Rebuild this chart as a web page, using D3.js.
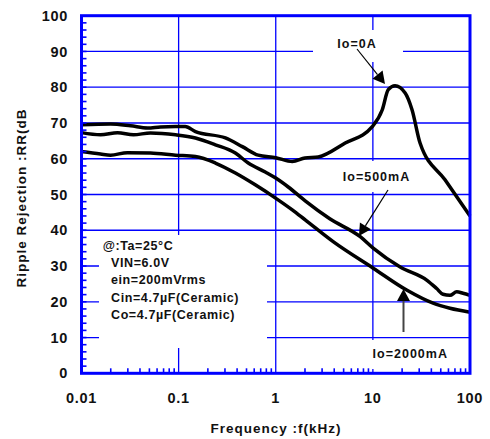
<!DOCTYPE html>
<html>
<head>
<meta charset="utf-8">
<script src="https://cdn.jsdelivr.net/npm/d3@7"></script>
<style>
  body { margin: 0; background: #fff; }
  text { font-family: "Liberation Sans", Arial, sans-serif; font-weight: bold; fill: #111; }
</style>
</head>
<body>
<div id="chart"></div>
<script>
var w = 490, h = 439;

// frequency in kHz, ripple rejection in dB
var f0 = [0.01, 0.02, 0.032, 0.048, 0.065, 0.093, 0.117, 0.149, 0.303, 0.453, 0.66, 1.0, 1.48, 2.0, 2.74, 5.19, 9.8, 12.5, 14.4, 16.9, 21.5, 25.3, 30.6, 55.3, 100];
var rr0 = [69.5, 69.7, 69.2, 68.6, 68.9, 69, 69, 67.6, 65.8, 63.4, 61, 60.3, 59.2, 60.2, 60.5, 64.4, 68.9, 73.7, 79.3, 80.4, 78.4, 73.7, 64.4, 54.1, 44];

var f500 = [0.01, 0.0157, 0.0235, 0.0343, 0.0513, 0.093, 0.149, 0.239, 0.384, 0.521, 0.78, 1.0, 1.345, 2.01, 3.6, 7.41, 10.07, 19.1, 36.1, 45.4, 52.7, 62.2, 73, 84.7, 100];
var rr500 = [67.3, 66.7, 67.3, 66.7, 67.2, 66.7, 65.8, 63.9, 61.6, 58.8, 56.3, 54.6, 52.1, 48.2, 43.2, 38.2, 35, 29.7, 26, 23.7, 22.1, 21.8, 22.8, 22.4, 21.8];

var f2000 = [0.01, 0.0157, 0.0199, 0.0297, 0.0513, 0.093, 0.149, 0.239, 0.384, 0.615, 0.995, 1.48, 2.01, 3.9, 10.07, 22.5, 41.7, 62.2, 100];
var rr2000 = [62, 61.3, 61, 61.7, 61.6, 61, 60.6, 58.8, 56, 52.7, 49, 45.7, 42.9, 36.8, 29.4, 23.2, 19.6, 18.2, 17.1];

var xTicks = [0.01, 0.1, 1, 10, 100];
var xTickLabels = ["0.01", "0.1", "1", "10", "100"];
var yTicks = [0, 10, 20, 30, 40, 50, 60, 70, 80, 90, 100];

var notes = ["@:Ta=25°C", "VIN=6.0V", "ein=200mVrms", "Cin=4.7µF(Ceramic)", "Co=4.7µF(Ceramic)"];

var pL = 81.5, pR = 470, pT = 15.7, pB = 373.3;
var blue = "#0000ff";

var svg = d3.select("#chart")
  .append("svg")
  .attr("width", w)
  .attr("height", h);

var x = d3.scaleLog()
  .domain([0.01, 100])
  .range([pL, pR]);

var y = d3.scaleLinear()
  .domain([0, 100])
  .range([pB, pT]);

// grid
svg.append("g")
  .selectAll("line")
  .data(yTicks.slice(1, -1))
  .join("line")
  .attr("x1", pL).attr("x2", pR)
  .attr("y1", d => y(d)).attr("y2", d => y(d))
  .attr("stroke", blue).attr("stroke-width", 1.3);

svg.append("g")
  .selectAll("line")
  .data(xTicks.slice(1, -1))
  .join("line")
  .attr("x1", d => x(d)).attr("x2", d => x(d))
  .attr("y1", pT).attr("y2", pB)
  .attr("stroke", blue).attr("stroke-width", 1.3);

// white boxes behind the labels
var boxes = [[313, 30, 90, 32], [330, 161, 90, 31], [345, 340, 123, 29], [99, 235, 168, 113]];
svg.append("g")
  .selectAll("rect")
  .data(boxes)
  .join("rect")
  .attr("x", d => d[0]).attr("y", d => d[1])
  .attr("width", d => d[2]).attr("height", d => d[3])
  .attr("fill", "#fff");

// curves
var line = d3.line()
  .x(d => x(d[0]))
  .y(d => y(d[1]))
  .curve(d3.curveMonotoneX);

[[f0, rr0], [f500, rr500], [f2000, rr2000]].forEach(function (s) {
  svg.append("path")
    .datum(d3.zip(s[0], s[1]))
    .attr("fill", "none")
    .attr("stroke", "#000")
    .attr("stroke-width", 3.5)
    .attr("stroke-linejoin", "round")
    .attr("d", line);
});

// minor ticks
svg.append("g")
  .selectAll("line")
  .data(d3.range(2, 100, 2))
  .join("line")
  .attr("x1", pL).attr("x2", pL + 5)
  .attr("y1", d => y(d)).attr("y2", d => y(d))
  .attr("stroke", blue).attr("stroke-width", 1.6);

var minorX = [];
[0.01, 0.1, 1, 10].forEach(function (dec) {
  d3.range(2, 10).forEach(k => minorX.push(dec * k));
});
svg.append("g")
  .selectAll("line")
  .data(minorX)
  .join("line")
  .attr("x1", d => x(d)).attr("x2", d => x(d))
  .attr("y1", pB).attr("y2", pB - 5)
  .attr("stroke", blue).attr("stroke-width", 1.6);

// frame
svg.append("rect")
  .attr("x", pL).attr("y", pT)
  .attr("width", pR - pL).attr("height", pB - pT)
  .attr("fill", "none")
  .attr("stroke", blue)
  .attr("stroke-width", 3);

// tick labels
svg.append("g")
  .selectAll("text")
  .data(yTicks)
  .join("text")
  .attr("x", 68)
  .attr("y", d => y(d))
  .attr("dy", "0.35em")
  .attr("text-anchor", "end")
  .attr("font-size", 14.5)
  .attr("letter-spacing", 0.7)
  .text(d => d);

svg.append("g")
  .selectAll("text")
  .data(xTicks)
  .join("text")
  .attr("x", (d, i) => x(d))
  .attr("y", 403)
  .attr("text-anchor", "middle")
  .attr("font-size", 14.5)
  .attr("letter-spacing", 0.7)
  .text((d, i) => xTickLabels[i]);

// axis titles
svg.append("text")
  .attr("x", 276)
  .attr("y", 433)
  .attr("text-anchor", "middle")
  .attr("font-size", 13.5)
  .attr("letter-spacing", 1)
  .text("Frequency :f(kHz)");

svg.append("text")
  .attr("transform", "translate(26,198) rotate(-90)")
  .attr("text-anchor", "middle")
  .attr("font-size", 13.5)
  .attr("letter-spacing", 1)
  .text("Ripple Rejection :RR(dB");

// conditions
svg.append("g")
  .selectAll("text")
  .data(notes)
  .join("text")
  .attr("x", (d, i) => i == 0 ? 102.7 : 111)
  .attr("y", (d, i) => 250 + i * 17.2)
  .attr("font-size", 12.5)
  .attr("letter-spacing", 0.6)
  .text(d => d);

// curve labels with arrows
var labels = [
  {text: "Io=0A", x: 357, y: 48.3, from: [357, 49], to: [385, 84], color: "#000", width: 1.2},
  {text: "Io=500mA", x: 376.5, y: 180.7, from: [388, 190], to: [359, 236], color: "#000", width: 1.2},
  {text: "Io=2000mA", x: 410.3, y: 358.3, from: [403.5, 332], to: [403.5, 289], color: "#444", width: 2}
];

labels.forEach(function (l) {
  svg.append("text")
    .attr("x", l.x)
    .attr("y", l.y)
    .attr("text-anchor", "middle")
    .attr("font-size", 12.5)
    .attr("letter-spacing", 1)
    .text(l.text);

  var dx = l.to[0] - l.from[0], dy = l.to[1] - l.from[1];
  var len = Math.sqrt(dx * dx + dy * dy);
  var ux = dx / len, uy = dy / len;
  var hl = 12, hw = 6.5;
  var bx = l.to[0] - ux * hl, by = l.to[1] - uy * hl;

  svg.append("line")
    .attr("x1", l.from[0]).attr("y1", l.from[1])
    .attr("x2", bx).attr("y2", by)
    .attr("stroke", l.color)
    .attr("stroke-width", l.width);

  svg.append("path")
    .attr("d", "M" + l.to[0] + "," + l.to[1] +
      "L" + (bx - uy * hw) + "," + (by + ux * hw) +
      "L" + (bx + uy * hw) + "," + (by - ux * hw) + "Z")
    .attr("fill", "#000");
});
</script>
</body>
</html>
